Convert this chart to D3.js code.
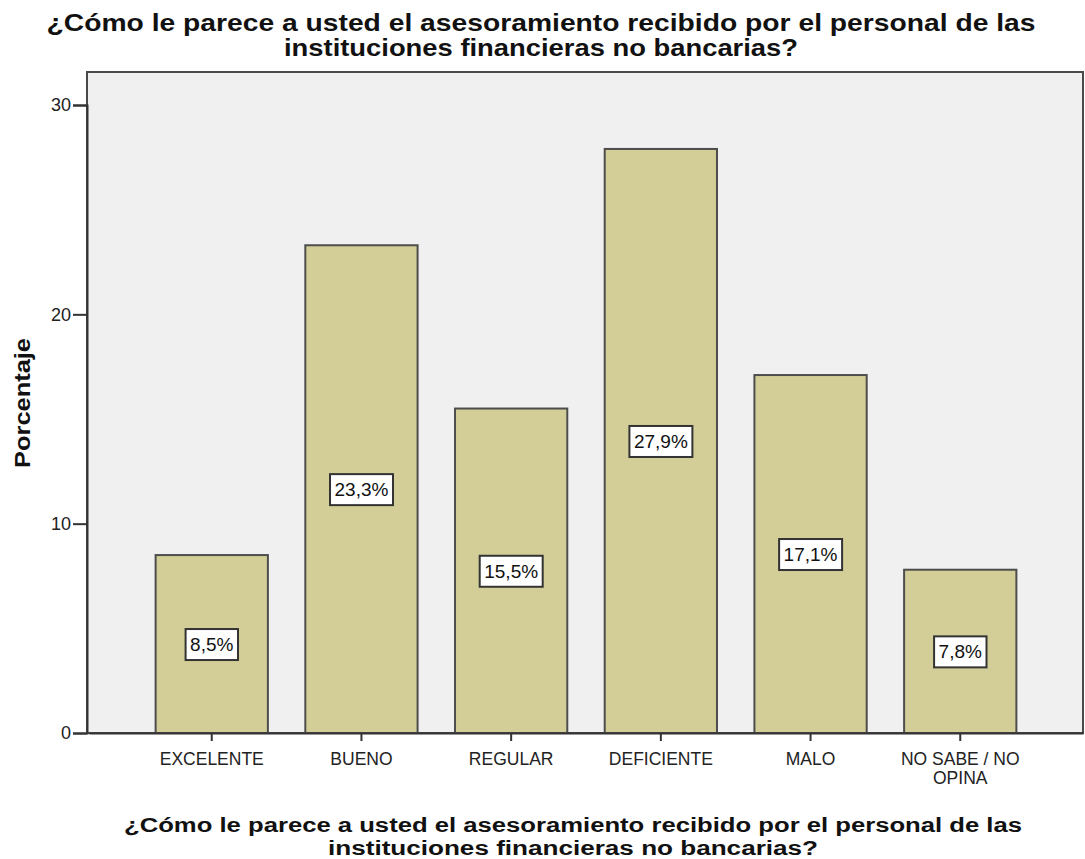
<!DOCTYPE html>
<html>
<head>
<meta charset="utf-8">
<script src="https://cdn.jsdelivr.net/npm/d3@7"></script>
<style>
  html, body { margin: 0; padding: 0; background: #ffffff; }
  svg { display: block; }
</style>
</head>
<body>
<svg id="chart" width="1085" height="859"></svg>
<script>
// Response categories and the percentage for each
const categories = ["EXCELENTE", "BUENO", "REGULAR", "DEFICIENTE", "MALO", "NO SABE / NO OPINA"];
const percentages = [8.5, 23.3, 15.5, 27.9, 17.1, 7.8];
const yTicks = [0, 10, 20, 30];
const titleLines = [
  "¿Cómo le parece a usted el asesoramiento recibido por el personal de las",
  "instituciones financieras no bancarias?"
];
const yTitle = "Porcentaje";

const svg = d3.select("#chart");

const plot = { left: 87, right: 1083, top: 72, bottom: 733 };

const x = d3.scaleBand()
  .domain(categories)
  .range([plot.left + 2, plot.right])
  .paddingInner(0.25)
  .paddingOuter(0.445);

const y = d3.scaleLinear()
  .domain([0, 30])
  .range([plot.bottom, 105]);

// Plot background and frame
svg.append("rect")
  .attr("x", plot.left).attr("y", plot.top)
  .attr("width", plot.right - plot.left)
  .attr("height", plot.bottom - plot.top)
  .attr("fill", "#f0f0f0")
  .attr("stroke", "#4a4a4a")
  .attr("stroke-width", 2);

// Bars
svg.append("g").selectAll("rect")
  .data(categories)
  .join("rect")
  .attr("x", d => x(d))
  .attr("y", (d, i) => y(percentages[i]))
  .attr("width", x.bandwidth())
  .attr("height", (d, i) => y(0) - y(percentages[i]))
  .attr("fill", "#d3ce97")
  .attr("stroke", "#4d4d4d")
  .attr("stroke-width", 2);

// Y axis
const yAxis = svg.append("g")
  .attr("transform", `translate(${plot.left},0)`)
  .call(d3.axisLeft(y).tickValues(yTicks).tickSize(14).tickPadding(2).tickFormat(d3.format("d")));
yAxis.select(".domain").attr("stroke", "#333").attr("stroke-width", 2);
yAxis.selectAll(".tick line").attr("stroke", "#333").attr("stroke-width", 2);
yAxis.selectAll(".tick text")
  .attr("font-family", "Liberation Sans, Arial, sans-serif")
  .attr("font-size", 18)
  .attr("fill", "#222");

// X axis
const xAxis = svg.append("g")
  .attr("transform", `translate(0,${plot.bottom})`)
  .call(d3.axisBottom(x).tickSize(8).tickPadding(6).tickSizeOuter(0));
xAxis.select(".domain").attr("stroke", "#333").attr("stroke-width", 2);
xAxis.selectAll(".tick line").attr("stroke", "#333").attr("stroke-width", 2);
xAxis.selectAll(".tick text").remove();
xAxis.selectAll(".tick").each(function (d) {
  const g = d3.select(this);
  const lines = d === "NO SABE / NO OPINA" ? ["NO SABE / NO", "OPINA"] : [d];
  const t = g.append("text")
    .attr("text-anchor", "middle")
    .attr("font-family", "Liberation Sans, Arial, sans-serif")
    .attr("font-size", 17.5)
    .attr("fill", "#222");
  lines.forEach((ln, k) => {
    t.append("tspan").attr("x", 0).attr("y", 32 + k * 19).text(ln);
  });
});

// Value labels in boxes at bar mid-height
const fmt = v => d3.format(".1f")(v).replace(".", ",") + "%";
const labels = svg.append("g").selectAll("g")
  .data(categories)
  .join("g")
  .attr("transform", (d, i) => `translate(${x(d) + x.bandwidth() / 2},${y(percentages[i] / 2)})`);
labels.each(function (d, i) {
  const g = d3.select(this);
  const txt = g.append("text")
    .attr("text-anchor", "middle")
    .attr("y", 7)
    .attr("font-family", "Liberation Sans, Arial, sans-serif")
    .attr("font-size", 19)
    .attr("fill", "#111")
    .text(fmt(percentages[i]));
  const bb = txt.node().getBBox();
  g.insert("rect", "text")
    .attr("x", bb.x - 4.5)
    .attr("y", -15)
    .attr("width", bb.width + 9)
    .attr("height", 31)
    .attr("fill", "#ffffff")
    .attr("stroke", "#333")
    .attr("stroke-width", 2);
});

// Two-line bold heading, stretched to a set width per line
function heading(cx, baselines, widths, size) {
  const t = svg.append("text")
    .attr("text-anchor", "middle")
    .attr("font-family", "Liberation Sans, Arial, sans-serif")
    .attr("font-weight", "bold")
    .attr("font-size", size)
    .attr("fill", "#111");
  titleLines.forEach((ln, k) => {
    t.append("tspan")
      .attr("x", cx).attr("y", baselines[k])
      .attr("textLength", widths[k])
      .attr("lengthAdjust", "spacingAndGlyphs")
      .text(ln);
  });
}

// Chart title
heading(541, [31, 56], [989, 514], 24);
// X axis title
heading(573, [832, 855], [898, 490], 20);

// Y axis title
svg.append("text")
  .attr("transform", "translate(30,403) rotate(-90)")
  .attr("text-anchor", "middle")
  .attr("font-family", "Liberation Sans, Arial, sans-serif")
  .attr("font-weight", "bold")
  .attr("font-size", 22)
  .attr("textLength", 130)
  .attr("lengthAdjust", "spacingAndGlyphs")
  .attr("fill", "#111")
  .text(yTitle);
</script>
</body>
</html>
